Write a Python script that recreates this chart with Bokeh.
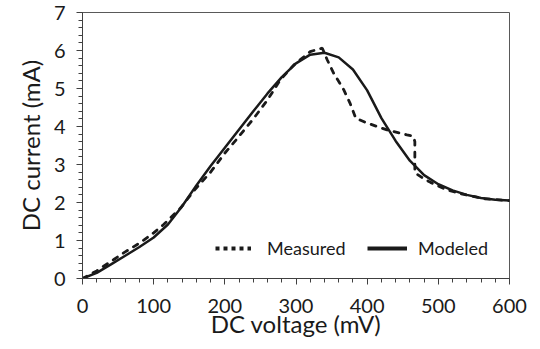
from bokeh.plotting import figure
from bokeh.models import Range1d, FixedTicker, Legend, LegendItem
from bokeh.embed import file_html
from bokeh.resources import INLINE

# Modeled (solid)
model_v = [0, 20, 40, 60, 80, 100, 120, 140, 160, 180, 200, 220, 240, 260, 280,
           300, 320, 340, 360, 380, 400, 420, 440, 460, 480, 500, 520, 540, 560, 580, 600]
model_i = [0.0, 0.15, 0.37, 0.6, 0.83, 1.08, 1.42, 1.9, 2.45, 2.96, 3.44, 3.92, 4.4, 4.87, 5.3,
           5.66, 5.89, 5.94, 5.82, 5.5, 4.95, 4.22, 3.62, 3.1, 2.72, 2.48, 2.32, 2.2, 2.12, 2.07, 2.05]

# Measured (dashed)
meas_v = [0, 20, 44, 60, 80, 100, 114, 138, 156, 180, 200, 215, 240, 260, 278, 297, 320,
          330, 337, 344, 353, 367, 376, 384, 400, 428, 456, 465, 467, 467, 467,
          472, 480, 489, 510, 531, 564, 600]
meas_i = [0.0, 0.2, 0.5, 0.7, 0.93, 1.2, 1.42, 1.86, 2.3, 2.8, 3.3, 3.63, 4.2, 4.7, 5.23, 5.62, 5.97,
          6.03, 6.06, 5.75, 5.4, 4.97, 4.61, 4.22, 4.09, 3.91, 3.78, 3.74, 3.6, 3.2, 2.78,
          2.72, 2.62, 2.53, 2.35, 2.23, 2.1, 2.05]

x_ticks = [0, 100, 200, 300, 400, 500, 600]
y_ticks = [0, 1, 2, 3, 4, 5, 6, 7]
x_minor = list(range(0, 601, 20))
y_minor = [k / 5 for k in range(0, 36)]

FONT = "Lato"
TXT = "#1a1a1a"

p = figure(width=540, height=349, output_backend="svg", toolbar_location=None,
           x_range=Range1d(0, 600), y_range=Range1d(0, 7),
           min_border_left=82, min_border_right=31, min_border_top=12, min_border_bottom=71)
p.xgrid.visible = False
p.ygrid.visible = False
p.outline_line_color = "#595959"
p.outline_line_width = 1

p.xaxis.ticker = FixedTicker(ticks=x_ticks, minor_ticks=x_minor)
p.yaxis.ticker = FixedTicker(ticks=y_ticks, minor_ticks=y_minor)
for ax in (p.xaxis, p.yaxis):
    ax.axis_line_color = "#404040"
    ax.major_tick_line_color = "#404040"
    ax.minor_tick_line_color = "#404040"
    ax.major_tick_in = 0
    ax.major_tick_out = 6
    ax.minor_tick_in = 0
    ax.minor_tick_out = 4
    ax.major_label_text_font = FONT
    ax.major_label_text_font_size = "20px"
    ax.major_label_text_color = TXT
    ax.axis_label_text_font = FONT
    ax.axis_label_text_font_size = "24px"
    ax.axis_label_text_font_style = "normal"
    ax.axis_label_text_color = TXT

p.xaxis.axis_label = "DC voltage (mV)"
p.yaxis.axis_label = "DC current (mA)"
p.xaxis.major_label_standoff = 14
p.yaxis.major_label_standoff = 11
p.xaxis.axis_label_standoff = -7
p.yaxis.axis_label_standoff = 6

p.line(meas_v, meas_i, line_color="#1a1a1a", line_width=2.8, line_dash="5 7", line_cap="round")
p.line(model_v, model_i, line_color="#1a1a1a", line_width=2.5)

# legend sample renderers (placed outside the visible range)
r_meas = p.line([-100, -90], [-1, -1], line_color="#1a1a1a", line_width=4, line_dash="4 4")
r_mod = p.line([-100, -90], [-1, -1], line_color="#1a1a1a", line_width=4)

for item, loc, gw, st in ((LegendItem(label="Measured", renderers=[r_meas]), (133, 19), 36, 16),
                          (LegendItem(label="Modeled", renderers=[r_mod]), (285, 19), 40, 11)):
    lg = Legend(items=[item], location=loc, orientation="horizontal",
                glyph_width=gw, glyph_height=20, label_standoff=st,
                padding=0, margin=0, spacing=0,
                border_line_color=None, background_fill_alpha=0,
                label_text_font=FONT, label_text_font_size="18px", label_text_color=TXT)
    p.add_layout(lg, "center")

open("out.html", "w").write(file_html(p, INLINE))
